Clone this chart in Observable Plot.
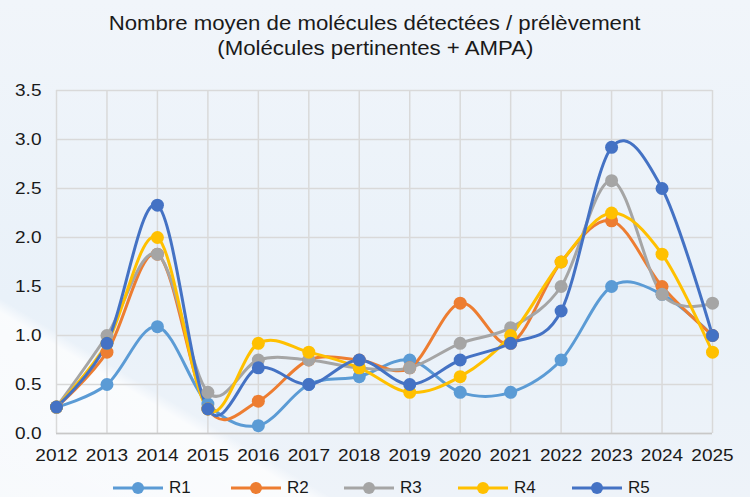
<!DOCTYPE html>
<html>
<head>
<meta charset="utf-8">
<script src="https://cdn.jsdelivr.net/npm/d3@7"></script>
<script src="https://cdn.jsdelivr.net/npm/@observablehq/plot@0.6"></script>
<style>
  html, body { margin: 0; padding: 0; }
  body {
    width: 750px; height: 497px; overflow: hidden;
    font-family: "Liberation Sans", Arial, sans-serif;
    background:
      linear-gradient(211deg, rgba(255,255,255,0) 0%, rgba(255,255,255,0) 79%, rgba(255,255,255,0.75) 80.5%, rgba(255,255,255,0.55) 100%),
      linear-gradient(180deg, #f1f5fa 0%, #e9f1f9 60%, #eef3f9 100%);
  }
  #title { height: 70px; text-align: center; font-size: 20px; color: #1a1a1a; line-height: 25px; padding-top: 11px; box-sizing: border-box; }
  #title span { display: inline-block; transform: scaleX(1.11); transform-origin: 50% 50%; }
  #chart { height: 395px; }
  #legend { position: relative; height: 32px; }
  .item { position: absolute; top: 12px; height: 22px; display: flex; align-items: center; font-size: 17px; color: #1a1a1a; }
  .item svg { margin-right: 6px; }
</style>
</head>
<body>
<div id="title"><span>Nombre moyen de molécules détectées / prélèvement</span><br><span>(Molécules pertinentes + AMPA)</span></div>
<div id="chart"></div>
<div id="legend"></div>
<script>
const years = [2012, 2013, 2014, 2015, 2016, 2017, 2018, 2019, 2020, 2021, 2022, 2023, 2024, 2025];
const seriesNames = ["R1", "R2", "R3", "R4", "R5"];
const colors = ["#5b9bd5", "#ed7d31", "#a5a5a5", "#ffc000", "#4472c4"];
const R1 = [0.27, 0.50, 1.09, 0.30, 0.08, 0.50, 0.58, 0.75, 0.42, 0.42, 0.75, 1.50, 1.42, 1.00];
const R2 = [0.27, 0.83, 1.83, 0.25, 0.33, 0.75, 0.75, 0.67, 1.33, 0.92, 1.75, 2.17, 1.50, 1.00];
const R3 = [0.27, 1.00, 1.83, 0.42, 0.75, 0.75, 0.67, 0.67, 0.92, 1.08, 1.50, 2.58, 1.42, 1.33];
const R4 = [0.27, 0.92, 2.00, 0.25, 0.92, 0.83, 0.67, 0.42, 0.58, 1.00, 1.75, 2.25, 1.83, 0.83];
const R5 = [0.27, 0.92, 2.33, 0.25, 0.67, 0.50, 0.75, 0.50, 0.75, 0.92, 1.25, 2.92, 2.50, 1.00];
const yTicks = [0, 0.5, 1, 1.5, 2, 2.5, 3, 3.5];

const allSeries = [R1, R2, R3, R4, R5];
const data = [];
allSeries.forEach((vals, i) => vals.forEach((v, j) => data.push({ series: seriesNames[i], year: years[j], value: v })));

const fontFamily = '"Liberation Sans", Arial, sans-serif';
const plot = Plot.plot({
  width: 750,
  height: 395,
  marginLeft: 56,
  marginRight: 38,
  marginTop: 20,
  marginBottom: 32,
  style: { background: "transparent", fontFamily, fontSize: "17px", color: "#1a1a1a", overflow: "visible" },
  x: { domain: [2012, 2025], ticks: years, tickFormat: d => String(d), label: null },
  y: { domain: [0, 3.5], ticks: yTicks, tickFormat: d => d.toFixed(1), label: null },
  color: { domain: seriesNames, range: colors },
  marks: [
    Plot.gridX(years, { stroke: "#d9d9d9", strokeOpacity: 1, strokeWidth: 1.5 }),
    Plot.gridY(yTicks, { stroke: "#d9d9d9", strokeOpacity: 1, strokeWidth: 1.5 }),
    Plot.ruleY([0], { stroke: "#c8c8c8", strokeWidth: 1.5 }),
    Plot.axisX(years, { tickSize: 0, tickPadding: 15, tickFormat: d => String(d), fontSize: 17 }),
    Plot.axisY(yTicks, { tickSize: 0, tickPadding: 15, tickFormat: d => d.toFixed(1), fontSize: 17 }),
    Plot.line(data, { x: "year", y: "value", z: "series", stroke: "series", strokeWidth: 3, curve: "cardinal" }),
    Plot.dot(data, { x: "year", y: "value", fill: "series", r: 6.5 })
  ]
});
document.getElementById("chart").appendChild(plot);

// slight horizontal stretch of tick labels (as in the reference rendering)
plot.querySelectorAll("text").forEach(t => {
  const tr = t.getAttribute("transform");
  if (tr) {
    t.setAttribute("transform", tr + " scale(1.12,1)");
  } else {
    const x = +(t.getAttribute("x") || 0), y = +(t.getAttribute("y") || 0);
    t.removeAttribute("x"); t.removeAttribute("y");
    t.setAttribute("transform", `translate(${x},${y}) scale(1.12,1)`);
  }
});

const legendX = [113, 231, 344, 458, 572];
const legend = document.getElementById("legend");
seriesNames.forEach((name, i) => {
  const div = document.createElement("div");
  div.className = "item";
  div.style.left = legendX[i] + "px";
  div.innerHTML = `<svg width="50" height="14"><line x1="0" y1="7" x2="50" y2="7" stroke="${colors[i]}" stroke-width="3"/><circle cx="25" cy="7" r="6" fill="${colors[i]}"/></svg><span>${name}</span>`;
  legend.appendChild(div);
});
</script>
</body>
</html>
